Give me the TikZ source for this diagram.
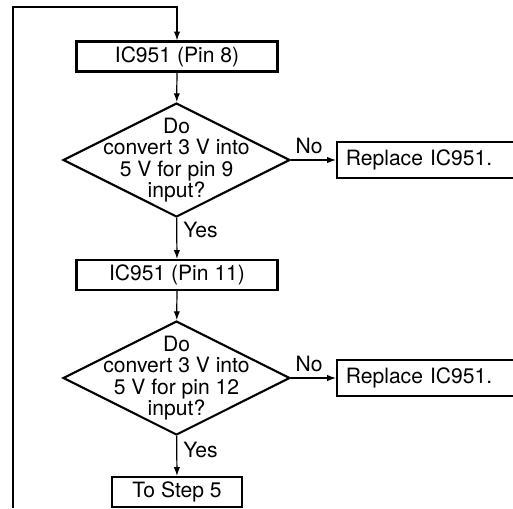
\documentclass[tikz,border=0pt]{standalone}
\usepackage{fontspec}
\setmainfont{TeX Gyre Heros}
\usetikzlibrary{positioning,shapes.geometric,arrows.meta}

\begin{document}
\begin{tikzpicture}[x=0.02cm, y=-0.02cm,
  every node/.style={font=\fontsize{12}{12.2}\selectfont},
  box/.style={draw, line width=1.2pt, minimum height=0.6cm, inner sep=0pt},
  replbox/.style={box, minimum height=0.72cm, inner xsep=5pt, text width=3.6cm, align=left},
  decision/.style={draw, diamond, line width=1.2pt, minimum width=4.54cm, minimum height=2.28cm, inner sep=0pt},
  flow/.style={line width=0.7pt, -{Latex[length=5pt,width=3.6pt]}}]
  \useasboundingbox (0,0) rectangle (513,508);
  % first check, pin 8 / pin 9
  \node[box, minimum width=4.02cm] (pin8) at (177,56.5) {IC951 (Pin 8)};
  \node[decision, label={[align=center]center:Do\\convert 3 V into\\5 V for pin 9\\input?}] (ask9) at (176.5,160) {};
  \node[replbox, right=0.9cm of ask9] (rep9) {Replace IC951.};
  % second check, pin 11 / pin 12
  \node[box, minimum width=4.02cm] (pin11) at (177,275) {IC951 (Pin 11)};
  \node[decision, label={[align=center]center:Do\\convert 3 V into\\5 V for pin 12\\input?}] (ask12) at (176.5,378) {};
  \node[replbox, right=0.9cm of ask12] (rep12) {Replace IC951.};
  \node[box, minimum width=2.6cm] (step5) at (177,492) {To Step 5};
  % loop back from below
  \coordinate (loop) at (13,508);
  \coordinate (turn) at (13,7);
  \draw[flow] (loop) -- (turn) -| (pin8);
  \draw[flow] (pin8) -- (ask9);
  \draw[flow] (ask9) -- node[above, pos=0.4] {No} (rep9);
  \draw[flow] (ask9) -- node[right, pos=0.3] {Yes} (pin11);
  \draw[flow] (pin11) -- (ask12);
  \draw[flow] (ask12) -- node[above, pos=0.4] {No} (rep12);
  \draw[flow] (ask12) -- node[right, pos=0.36] {Yes} (step5);
\end{tikzpicture}
\end{document}
